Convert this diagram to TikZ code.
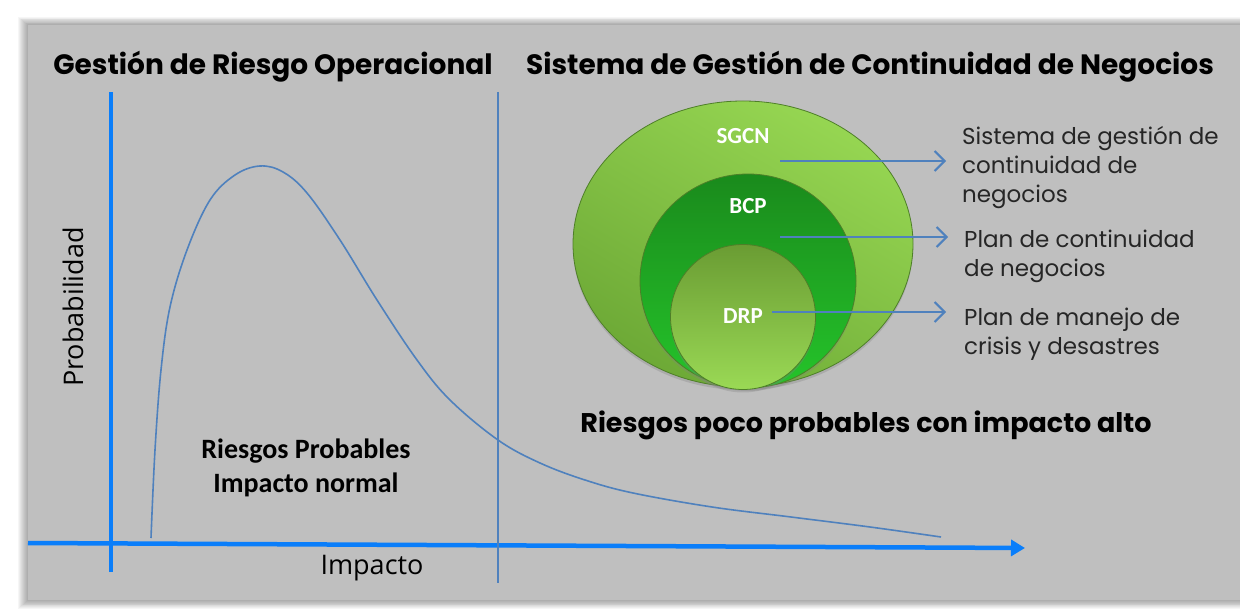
\documentclass[tikz,border=0pt]{standalone}
\usepackage{fontspec}
\usepackage{tikz}
\usetikzlibrary{positioning}
\usetikzlibrary{shapes.geometric}
\usetikzlibrary{arrows.meta}
\usetikzlibrary{shadows}
\newfontfamily\gothicfont{Poppins}
\newfontfamily\calibfont{Carlito}
\newfontfamily\opensfont{Open Sans}
\definecolor{panel-grey}{HTML}{BFBFBF}
\definecolor{axis-blue}{HTML}{0A7EFA}
\definecolor{line-blue}{HTML}{4F81BD}
\definecolor{sgcn-light}{HTML}{96D652}
\definecolor{sgcn-dark}{HTML}{6DA936}
\definecolor{bcp-light}{HTML}{25C42A}
\definecolor{bcp-dark}{HTML}{1A8A1C}
\definecolor{drp-light}{HTML}{9AD955}
\definecolor{drp-dark}{HTML}{6A9C33}
\definecolor{rim}{HTML}{4E7F28}
\colorlet{note-text}{black!85}

\begin{document}
\begin{tikzpicture}[x=1pt, y=-1pt,
  title/.style={font=\gothicfont\bfseries\fontsize{28}{32}\selectfont, anchor=base},
  axis/.style={draw=axis-blue, line width=4.5pt},
  blob/.style={ellipse, draw=rim, line width=0.8pt,
    drop shadow={shadow xshift=0pt, shadow yshift=-3pt, opacity=0.3}},
  tag/.style={font=\calibfont\bfseries\fontsize{23}{26}\selectfont, text=white, anchor=base},
  note/.style={font=\gothicfont\fontsize{23}{29}\selectfont, text=note-text,
    align=left, anchor=base west, inner sep=0pt},
  pointer/.style={draw=line-blue, line width=2pt, shorten >=16pt,
    -{Straight Barb[length=10pt, width=20pt]}}]
% page, shadow and panel
\fill[white] (0,0) rectangle (1240,609);
\useasboundingbox (0,0) rectangle (1240,609);
\foreach \d in {1,...,10}
  \fill[black, opacity=0.035] (28-\d, 25-0.8*\d) rectangle (1240, 600+0.9*\d);
\fill[panel-grey] (28,25) rectangle (1240,600);

% axes
\coordinate (y-top) at (111,92);
\coordinate (y-bot) at (111,572);
\draw[axis] (y-bot) -- (y-top);
\coordinate (x-start) at (28,543);
\coordinate (x-end) at (1025,548);
\draw[axis, -{Triangle[length=14pt, width=16pt]}] (x-start) -- (x-end);
\coordinate (split-top) at (498,92);
\coordinate (split-bot) at (498,583);
\draw[line-blue, line width=1.2pt] (split-top) -- (split-bot);

% risk curve
\draw[line-blue, line width=1.6pt] plot[smooth, tension=0.6] coordinates {
  (151,538) (155,450) (161,370) (170,307) (187,250) (210,200)
  (235,175) (260,166) (283,172) (307,193) (340,240) (377,300) (417,360)
  (450,400) (498,440) (540,463) (585,480) (633,493) (712,507) (791,517)
  (870,527) (941,537)};

% titles and axis labels
\node[title] (left-title) at (273,75) {Gestión de Riesgo Operacional};
\node[title] (right-title) at (870,75) {Sistema de Gestión de Continuidad de Negocios};
\node[font=\opensfont\fontsize{27}{30}\selectfont, rotate=90, anchor=base] (y-label) at (83,307) {Probabilidad};
\node[font=\opensfont\fontsize{27}{30}\selectfont, anchor=base] (x-label) at (372,574) {Impacto};
\node[font=\calibfont\bfseries\fontsize{28}{33}\selectfont, align=center, anchor=base] (likely) at (306,492) {Riesgos Probables\\Impacto normal};

% nested plans
\node[blob, minimum width=340pt, minimum height=286pt,
  top color=sgcn-light, bottom color=sgcn-dark, shading angle=-30] (sgcn) at (743,244) {};
\node[blob, minimum width=216pt, minimum height=214pt,
  top color=bcp-dark, bottom color=bcp-light] (bcp) at (748,281) {};
\node[blob, minimum width=145pt, minimum height=145pt,
  top color=drp-dark, bottom color=drp-light] (drp) at (743,317) {};
\node[tag] (sgcn-tag) at (743,144) {SGCN};
\node[tag] (bcp-tag) at (748,214) {BCP};
\node[tag] (drp-tag) at (743,324) {DRP};

% descriptions
\node[note] (sgcn-note) at (962,203) {Sistema de gestión de\\continuidad de\\negocios};
\node[note] (bcp-note) at (964,277) {Plan de continuidad\\de negocios};
\node[note] (drp-note) at (964,355) {Plan de manejo de\\crisis y desastres};
\coordinate (sgcn-from) at (780,161);
\coordinate (bcp-from) at (780,237);
\coordinate (drp-from) at (772,312);
\draw[pointer] (sgcn-from) -- (sgcn-from -| sgcn-note.west);
\draw[pointer] (bcp-from) -- (bcp-from -| bcp-note.west);
\draw[pointer, shorten >=18pt] (drp-from) -- (drp-from -| drp-note.west);

\node[title, font=\gothicfont\bfseries\fontsize{27}{30}\selectfont] (rare) at (866,432) {Riesgos poco probables con impacto alto};
\end{tikzpicture}
\end{document}
